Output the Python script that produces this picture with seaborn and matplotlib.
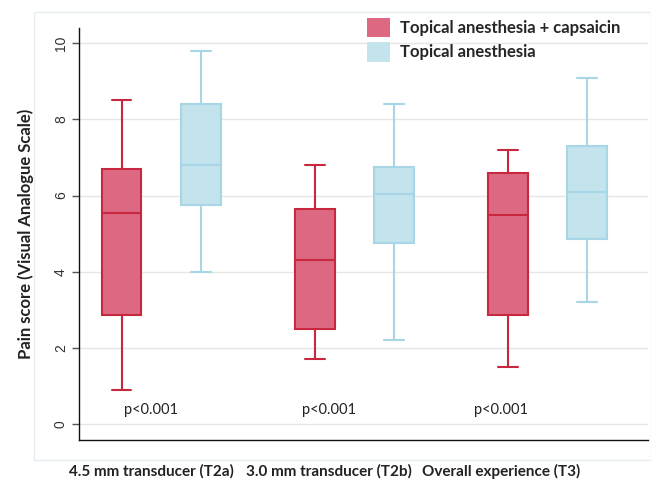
import pandas as pd
import numpy as np
import matplotlib.pyplot as plt
import seaborn as sns
from matplotlib.patches import Patch, Rectangle

# five-number summaries: low whisker, q1, median, q3, high whisker
categories = ['4.5 mm transducer (T2a)', '3.0 mm transducer (T2b)', 'Overall experience (T3)']
groups = ['Topical anesthesia + capsaicin', 'Topical anesthesia']
capsaicin = [[0.9, 2.85, 5.55, 6.7, 8.5],
             [1.7, 2.5, 4.3, 5.65, 6.8],
             [1.5, 2.85, 5.5, 6.6, 7.2]]
anesthesia = [[4.0, 5.75, 6.8, 8.4, 9.8],
              [2.2, 4.75, 6.05, 6.75, 8.4],
              [3.2, 4.85, 6.1, 7.3, 9.1]]
p_values = ['p<0.001', 'p<0.001', 'p<0.001']

rows = []
for cat, a, b in zip(categories, capsaicin, anesthesia):
    for v in a:
        rows.append((cat, groups[0], v))
    for v in b:
        rows.append((cat, groups[1], v))
df = pd.DataFrame(rows, columns=['Category', 'Group', 'Score'])

fills = ['#DD6882', '#C3E3ED']
edges = ['#C8283F', '#A8D6E6']

sns.set_style('white')
plt.rcParams['font.family'] = ['Lato', 'DejaVu Sans']

fig = plt.figure(figsize=(6.51, 4.79), dpi=100)
fig.patches.append(Rectangle((34 / 651, 19 / 479), 617 / 651, 448 / 479,
                             transform=fig.transFigure, fill=False,
                             edgecolor='#E6EEF1', linewidth=1))
ax = fig.add_axes([79 / 651, 39 / 479, 569 / 651, 412 / 479])

sns.boxplot(data=df, x='Category', y='Score', hue='Group', order=categories,
            hue_order=groups, palette=fills, saturation=1, width=0.82, gap=0.5,
            whis=(0, 100), linewidth=1.5, legend=False, ax=ax)

for cont, col in zip(ax.containers, edges):
    for box in cont.boxes:
        box.set_edgecolor(col)
    for ln in list(cont.medians) + list(cont.whiskers) + list(cont.caps):
        ln.set_color(col)

ax.set_ylim(-0.42, 10.4)
ax.set_xlim(-0.425, 2.52)
ax.set_yticks([0, 2, 4, 6, 8, 10])
ax.set_yticklabels(['0', '2', '4', '6', '8', '10'], rotation=90, va='center',
                   family='Liberation Sans', fontsize=10, color='#333333')
ax.tick_params(axis='y', left=True, length=5, width=1, color='#555555', pad=3)
ax.yaxis.grid(True, color='#E6E6E6', linewidth=1)
ax.set_axisbelow(True)

xpos = [-0.05, 0.87, 1.76]
ax.set_xticks(xpos)
ax.set_xticklabels(categories, fontsize=11, fontweight='bold', color='#222222')
ax.tick_params(axis='x', bottom=False, pad=14)
for x, p in zip(xpos, p_values):
    ax.text(x, 0.37, p, ha='center', va='center', fontsize=10.5, color='#222222')

ax.set_xlabel('')
ax.set_ylabel('Pain score (Visual Analogue Scale)', fontsize=12, fontweight='bold',
              color='#222222', labelpad=14)
for s in ['top', 'right']:
    ax.spines[s].set_visible(False)
for s in ['left', 'bottom']:
    ax.spines[s].set_color('#111111')
    ax.spines[s].set_linewidth(1)

handles = [Patch(facecolor=c, edgecolor='none') for c in fills]
fig.legend(handles, groups, loc='upper left', bbox_to_anchor=(367 / 651, 1 - 18 / 479),
           frameon=False, borderpad=0, borderaxespad=0, handlelength=1.4, handleheight=1.4,
           handletextpad=0.6, labelspacing=0.3, prop={'weight': 'bold', 'size': 12})

plt.savefig('out.png', dpi=100)
